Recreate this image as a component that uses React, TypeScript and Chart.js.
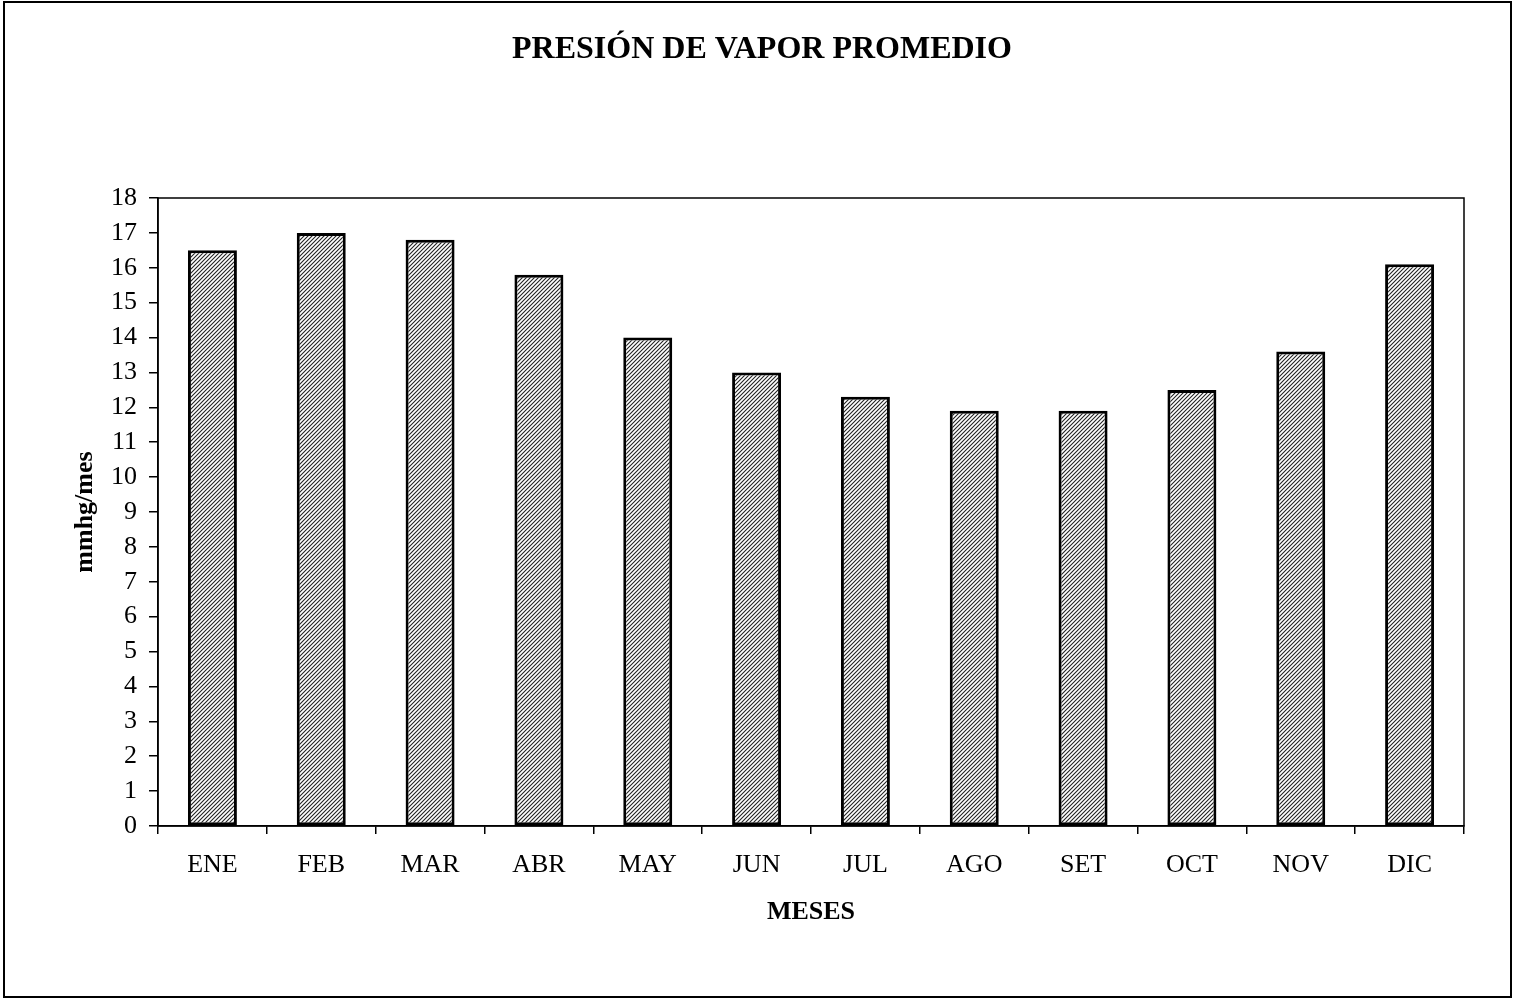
import React, { useEffect, useRef } from "react";
import { Chart, registerables } from "chart.js";

Chart.register(...registerables);

const categories = ["ENE", "FEB", "MAR", "ABR", "MAY", "JUN", "JUL", "AGO", "SET", "OCT", "NOV", "DIC"];
const values = [16.5, 17.0, 16.8, 15.8, 14.0, 13.0, 12.3, 11.9, 11.9, 12.5, 13.6, 16.1];
const titleText = "PRESIÓN DE VAPOR PROMEDIO";
const xTitle = "MESES";
const yTitle = "mmhg/mes";

const FONT = "'Liberation Serif', 'Times New Roman', serif";

function makeHatch(): CanvasPattern | string {
  const c = document.createElement("canvas");
  c.width = 4;
  c.height = 4;
  const g = c.getContext("2d");
  if (!g) return "#999";
  g.fillStyle = "#ffffff";
  g.fillRect(0, 0, 4, 4);
  g.strokeStyle = "#222";
  g.lineWidth = 1.1;
  g.beginPath();
  g.moveTo(0, 4);
  g.lineTo(4, 0);
  g.moveTo(-1, 1);
  g.lineTo(1, -1);
  g.moveTo(3, 5);
  g.lineTo(5, 3);
  g.stroke();
  const p = g.createPattern(c, "repeat");
  return p || "#999";
}

const framePlugin = {
  id: "frame",
  afterDraw(chart: any) {
    const { ctx, chartArea } = chart;
    ctx.save();
    ctx.strokeStyle = "#000";
    ctx.lineWidth = 1.5;
    ctx.strokeRect(chartArea.left, chartArea.top, chartArea.right - chartArea.left, chartArea.bottom - chartArea.top);
    ctx.lineWidth = 2;
    ctx.strokeRect(4, 2, 1507, 995);
    ctx.restore();
  },
};

export default function App() {
  const ref = useRef<HTMLCanvasElement | null>(null);
  useEffect(() => {
    document.body.style.margin = "0";
    const canvas = ref.current;
    if (!canvas) return;
    const chart = new Chart(canvas, {
      type: "bar",
      data: {
        labels: categories,
        datasets: [
          {
            data: values,
            backgroundColor: makeHatch() as any,
            borderColor: "#000",
            borderWidth: 3,
            borderSkipped: false,
            barPercentage: 0.45,
            categoryPercentage: 1,
          },
        ],
      },
      options: {
        animation: false,
        responsive: false,
        maintainAspectRatio: false,
        layout: { padding: { left: 60, right: 49, top: 10, bottom: 54 } },
        plugins: {
          legend: { display: false },
          tooltip: { enabled: false },
          title: {
            display: true,
            text: titleText,
            color: "#000",
            font: { family: FONT, size: 32, weight: "bold" },
            padding: { top: 21, bottom: 128.6 },
          },
        },
        scales: {
          x: {
            offset: true,
            grid: {
              offset: true,
              drawOnChartArea: false,
              drawTicks: true,
              tickLength: 8,
              color: "#000",
              lineWidth: 1.5,
            },
            border: { display: true, color: "#000", width: 1.5 },
            ticks: {
              color: "#000",
              font: { family: FONT, size: 26 },
              padding: 16,
              maxRotation: 0,
            },
            title: {
              display: true,
              text: xTitle,
              color: "#000",
              font: { family: FONT, size: 26, weight: "bold" },
              padding: { top: 0, bottom: 18.4 },
            },
            afterFit(scale: any) {
              scale.height = 120;
            },
          },
          y: {
            min: 0,
            max: 18,
            grid: {
              drawOnChartArea: false,
              drawTicks: true,
              tickLength: 9,
              color: "#000",
              lineWidth: 1.5,
            },
            border: { display: true, color: "#000", width: 1.5 },
            ticks: {
              stepSize: 1,
              color: "#000",
              font: { family: FONT, size: 26 },
              padding: 12,
            },
            title: {
              display: true,
              text: yTitle,
              color: "#000",
              font: { family: FONT, size: 26, weight: "bold" },
              padding: { top: 9.4, bottom: 0 },
            },
            afterFit(scale: any) {
              scale.width = 98;
            },
          },
        },
      },
      plugins: [framePlugin],
    });
    return () => chart.destroy();
  }, []);
  return (
    <div style={{ position: "absolute", left: 0, top: 0, width: 1513, height: 1000, background: "#fff" }}>
      <canvas ref={ref} width={1513} height={1000} style={{ width: 1513, height: 1000, display: "block" }} />
    </div>
  );
}
